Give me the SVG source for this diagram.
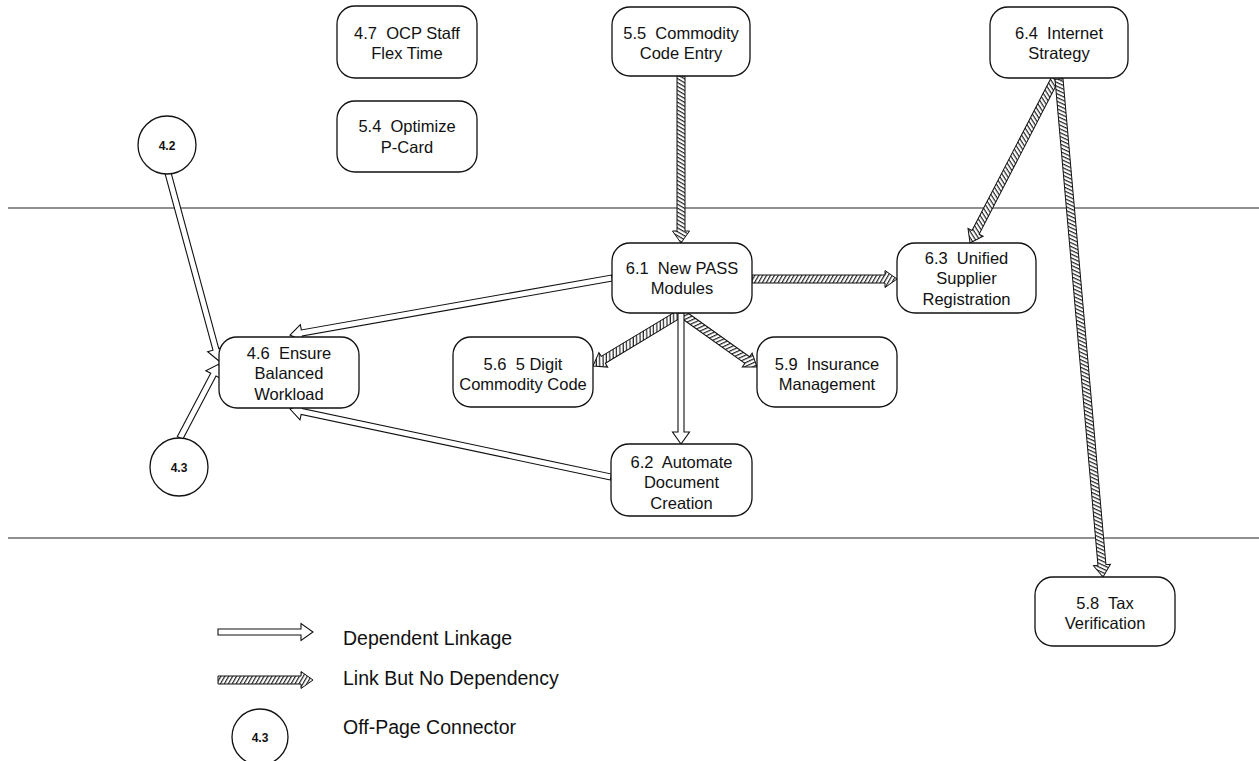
<svg xmlns="http://www.w3.org/2000/svg" width="1259" height="761" viewBox="0 0 1259 761">
<defs>
<style>
.box{fill:#fff;stroke:#111;stroke-width:1.3}
.t{font-family:"Liberation Sans",Arial,sans-serif;font-size:16.5px;fill:#111;text-anchor:middle;white-space:pre}
.ct{font-family:"Liberation Sans",Arial,sans-serif;font-size:12px;font-weight:bold;fill:#111;text-anchor:middle}
.lt{font-family:"Liberation Sans",Arial,sans-serif;font-size:19.5px;fill:#111}
.dep{fill:#fff;stroke:#111;stroke-width:1.1;stroke-linejoin:miter}
.link{fill:url(#hatch);stroke:#111;stroke-width:1}
.rule{stroke:#222;stroke-width:1.2}
</style>
<pattern id="hatch" patternUnits="userSpaceOnUse" width="3.4" height="3.4" patternTransform="rotate(30)">
<rect width="3.4" height="3.4" fill="#fff"/>
<rect width="1.2" height="3.4" fill="#222"/>
</pattern>
</defs>
<rect width="1259" height="761" fill="#fff"/>
<line class="rule" x1="8" y1="208" x2="1259" y2="208"/>
<line class="rule" x1="8" y1="538" x2="1259" y2="538"/>

<g id="connectors">
<g transform="translate(681,76) rotate(90)"><polygon class="link" points="0,-4 155,-4 155,-8.5 167,0 155,8.5 155,4 0,4"/></g>
<g transform="translate(1055,79) rotate(117.39)"><polygon class="link" points="0,-4 172.7,-4 172.7,-8.5 184.7,0 172.7,8.5 172.7,4 0,4"/></g>
<g transform="translate(1059,79) rotate(84.95)"><polygon class="link" points="0,-4 487.9,-4 487.9,-8.5 499.9,0 487.9,8.5 487.9,4 0,4"/></g>
<g transform="translate(752,279) rotate(0)"><polygon class="link" points="0,-4 133,-4 133,-8.5 145,0 133,8.5 133,4 0,4"/></g>
<g transform="translate(681,313) rotate(148.94)"><polygon class="link" points="0,-4 90.7,-4 90.7,-8.5 102.7,0 90.7,8.5 90.7,4 0,4"/></g>
<g transform="translate(681,313) rotate(35.39)"><polygon class="link" points="0,-4 81.2,-4 81.2,-8.5 93.2,0 81.2,8.5 81.2,4 0,4"/></g>
<g transform="translate(681,313) rotate(90)"><polygon class="dep" points="0,-3 119,-3 119,-8.5 131,0 119,8.5 119,3 0,3"/></g>
<g transform="translate(612,278) rotate(169.96)"><polygon class="dep" points="0,-3 315,-3 315,-8.5 327,0 315,8.5 315,3 0,3"/></g>
<g transform="translate(611,477) rotate(191.96)"><polygon class="dep" points="0,-3 316.1,-3 316.1,-8.5 328.1,0 316.1,8.5 316.1,3 0,3"/></g>
<g transform="translate(168,173) rotate(74.82)"><polygon class="dep" points="0,-3 182.8,-3 182.8,-8.5 194.8,0 182.8,8.5 182.8,3 0,3"/></g>
<g transform="translate(180,438) rotate(-62.21)"><polygon class="dep" points="0,-3 71.6,-3 71.6,-8.5 83.6,0 71.6,8.5 71.6,3 0,3"/></g>
</g>

<g id="n47"><rect class="box" x="337" y="6" width="140" height="72" rx="18"/><text class="t" x="407" y="38.5" xml:space="preserve">4.7  OCP Staff</text><text class="t" x="407" y="59">Flex Time</text></g>
<g id="n54"><rect class="box" x="337" y="101" width="140" height="71" rx="18"/><text class="t" x="407" y="132" xml:space="preserve">5.4  Optimize</text><text class="t" x="407" y="152.5">P-Card</text></g>
<g id="n55"><rect class="box" x="612" y="7" width="138" height="69" rx="18"/><text class="t" x="681" y="38.5" xml:space="preserve">5.5  Commodity</text><text class="t" x="681" y="59">Code Entry</text></g>
<g id="n64"><rect class="box" x="990" y="7" width="138" height="71" rx="18"/><text class="t" x="1059" y="38.5" xml:space="preserve">6.4  Internet</text><text class="t" x="1059" y="59">Strategy</text></g>
<g id="n61"><rect class="box" x="612" y="243" width="140" height="70" rx="18"/><text class="t" x="682" y="273.5" xml:space="preserve">6.1  New PASS</text><text class="t" x="682" y="294">Modules</text></g>
<g id="n63"><rect class="box" x="897" y="243" width="139" height="70" rx="18"/><text class="t" x="966.5" y="263.5" xml:space="preserve">6.3  Unified</text><text class="t" x="966.5" y="284">Supplier</text><text class="t" x="966.5" y="304.5">Registration</text></g>
<g id="n46"><rect class="box" x="219" y="337" width="140" height="71" rx="18"/><text class="t" x="289" y="358.5" xml:space="preserve">4.6  Ensure</text><text class="t" x="289" y="379">Balanced</text><text class="t" x="289" y="399.5">Workload</text></g>
<g id="n56"><rect class="box" x="453" y="337" width="140" height="70" rx="18"/><text class="t" x="523" y="369.5" xml:space="preserve">5.6  5 Digit</text><text class="t" x="523" y="390">Commodity Code</text></g>
<g id="n59"><rect class="box" x="757" y="337" width="140" height="70" rx="18"/><text class="t" x="827" y="369.5" xml:space="preserve">5.9  Insurance</text><text class="t" x="827" y="390">Management</text></g>
<g id="n62"><rect class="box" x="611" y="444" width="141" height="72" rx="18"/><text class="t" x="681.5" y="467.5" xml:space="preserve">6.2  Automate</text><text class="t" x="681.5" y="488">Document</text><text class="t" x="681.5" y="508.5">Creation</text></g>
<g id="n58"><rect class="box" x="1035" y="577" width="140" height="69" rx="18"/><text class="t" x="1105" y="608.5" xml:space="preserve">5.8  Tax</text><text class="t" x="1105" y="629">Verification</text></g>
<g id="c42"><circle class="box" cx="167" cy="145" r="29"/><text class="ct" x="167" y="149.5">4.2</text></g>
<g id="c43"><circle class="box" cx="179" cy="467" r="29"/><text class="ct" x="179" y="471.5">4.3</text></g>

<g id="legend">
<g transform="translate(218,632)"><polygon class="dep" points="0,-3 83,-3 83,-8.5 95,0 83,8.5 83,3 0,3"/></g>
<g transform="translate(218,680)"><polygon class="link" points="0,-4 83,-4 83,-8.5 95,0 83,8.5 83,4 0,4"/></g>
<circle class="box" cx="260" cy="737" r="28"/><text class="ct" x="260" y="741.5">4.3</text>
<text class="lt" x="343" y="645">Dependent Linkage</text>
<text class="lt" x="343" y="685">Link But No Dependency</text>
<text class="lt" x="343" y="734">Off-Page Connector</text>
</g>
</svg>
